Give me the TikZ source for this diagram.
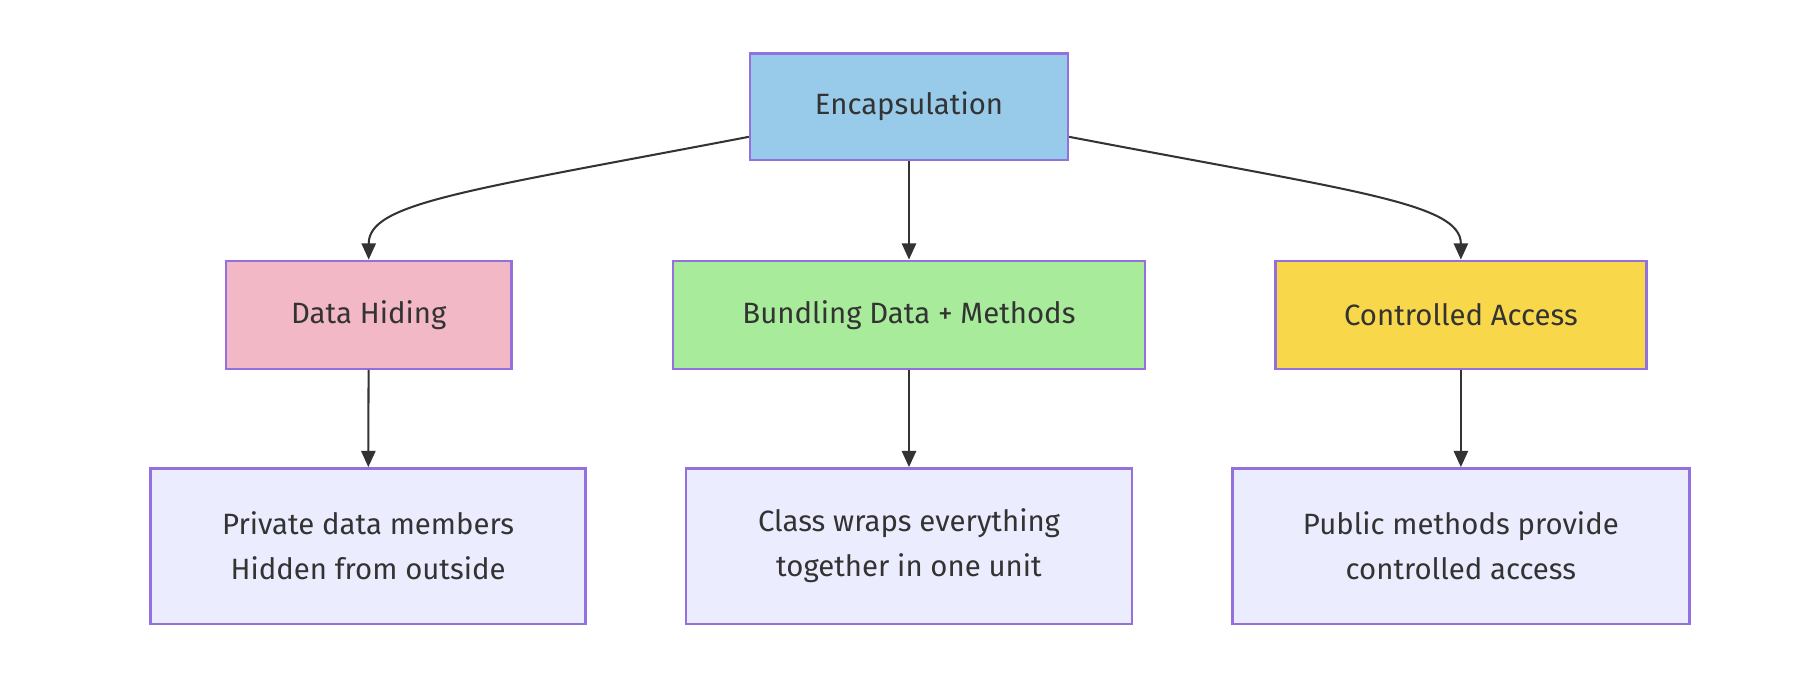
\documentclass[tikz,border=0pt]{standalone}
\usepackage{fontspec}
\setmainfont{Fira Sans}
\usetikzlibrary{arrows.meta}
\definecolor{bd}{HTML}{9370DB}
\definecolor{ln}{HTML}{333333}
\begin{document}
\begin{tikzpicture}[x=0.01cm,y=-0.01cm,
  box/.style={draw=bd,line width=0.6pt,inner sep=0pt,text=ln,align=center,font=\fontsize{7.2}{11}\selectfont},
  arr/.style={draw=ln,line width=0.5pt,-{Triangle[length=4pt,width=3.5pt]}}]
\useasboundingbox (0,0) rectangle (1568,588);
\node[box,fill={rgb,255:red,152;green,203;blue,233},minimum width=274\pgflinewidth*0+2.74cm,minimum height=0.92cm] (e) at (784,92) {Encapsulation};
\node[box,fill={rgb,255:red,243;green,184;blue,198},minimum width=2.46cm,minimum height=0.93cm] (dh) at (318,271.5) {Data Hiding};
\node[box,fill={rgb,255:red,168;green,235;blue,154},minimum width=4.07cm,minimum height=0.93cm] (bd1) at (784,271.5) {Bundling Data + Methods};
\node[box,fill={rgb,255:red,248;green,216;blue,74},minimum width=3.2cm,minimum height=0.93cm] (ca) at (1260,271.5) {Controlled Access};
\node[box,fill={rgb,255:red,236;green,236;blue,255},minimum width=3.75cm,minimum height=1.34cm] (p) at (317.5,471) {Private data members\\Hidden from outside};
\node[box,fill={rgb,255:red,236;green,236;blue,255},minimum width=3.84cm,minimum height=1.34cm] (c) at (784,471) {Class wraps everything\\together in one unit};
\node[box,fill={rgb,255:red,236;green,236;blue,255},minimum width=3.94cm,minimum height=1.34cm] (pu) at (1260,471) {Public methods provide\\controlled access};
\coordinate (el) at ([yshift=-0.26cm]e.west);
\coordinate (er) at ([yshift=-0.26cm]e.east);
\draw[arr] (el) .. controls (400,165) and (318,175) .. (dh.north);
\draw[arr] (er) .. controls (1168,165) and (1260,175) .. (ca.north);
\draw[arr] (e) -- (bd1);
\draw[arr] (dh) -- (p);
\draw[arr] (bd1) -- (c);
\draw[arr] (ca) -- (pu);
\end{tikzpicture}
\end{document}
